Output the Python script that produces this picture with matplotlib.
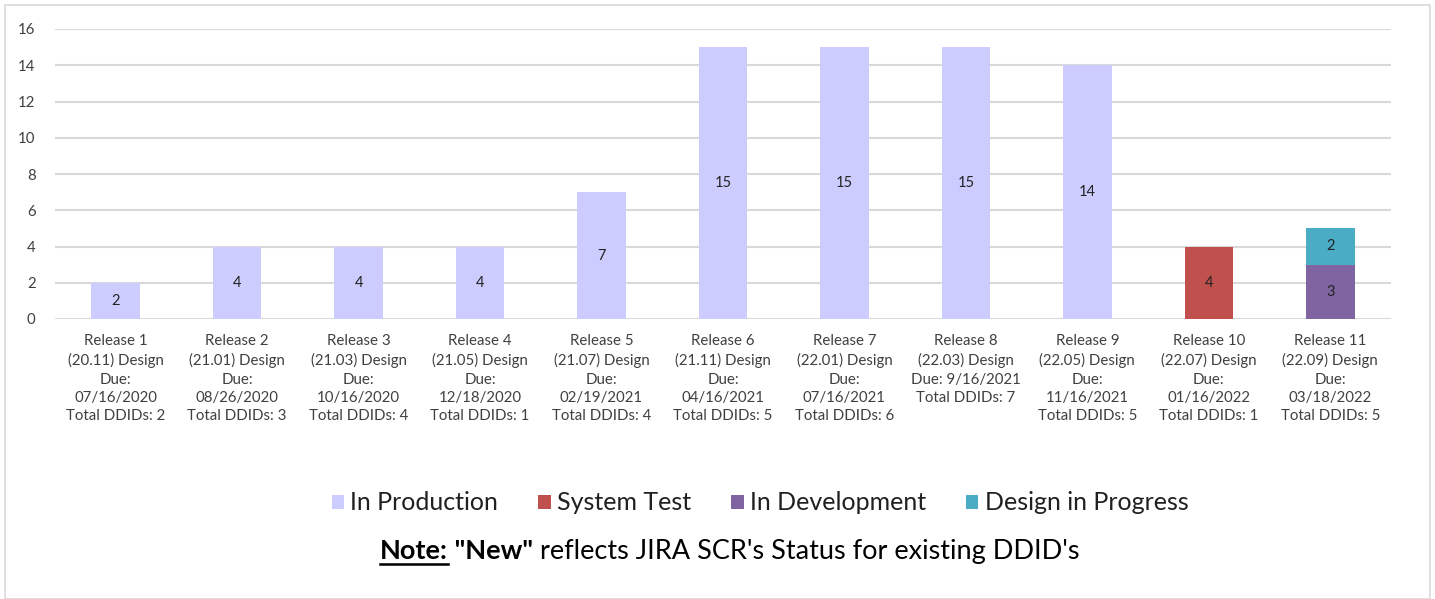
import numpy as np
import matplotlib.pyplot as plt
from matplotlib.patches import Rectangle

plt.rcParams['font.family'] = ['Lato', 'DejaVu Sans']

# Categories
releases = [
    "Release 1\n(20.11) Design\nDue:\n07/16/2020\nTotal DDIDs: 2",
    "Release 2\n(21.01) Design\nDue:\n08/26/2020\nTotal DDIDs: 3",
    "Release 3\n(21.03) Design\nDue:\n10/16/2020\nTotal DDIDs: 4",
    "Release 4\n(21.05) Design\nDue:\n12/18/2020\nTotal DDIDs: 1",
    "Release 5\n(21.07) Design\nDue:\n02/19/2021\nTotal DDIDs: 4",
    "Release 6\n(21.11) Design\nDue:\n04/16/2021\nTotal DDIDs: 5",
    "Release 7\n(22.01) Design\nDue:\n07/16/2021\nTotal DDIDs: 6",
    "Release 8\n(22.03) Design\nDue: 9/16/2021\nTotal DDIDs: 7",
    "Release 9\n(22.05) Design\nDue:\n11/16/2021\nTotal DDIDs: 5",
    "Release 10\n(22.07) Design\nDue:\n01/16/2022\nTotal DDIDs: 1",
    "Release 11\n(22.09) Design\nDue:\n03/18/2022\nTotal DDIDs: 5",
]

# Series values (stacked)
in_production = [2, 4, 4, 4, 7, 15, 15, 15, 14, 0, 0]
system_test = [0, 0, 0, 0, 0, 0, 0, 0, 0, 4, 0]
in_development = [0, 0, 0, 0, 0, 0, 0, 0, 0, 0, 3]
design_in_progress = [0, 0, 0, 0, 0, 0, 0, 0, 0, 0, 2]

series = [in_production, system_test, in_development, design_in_progress]
names = ["In Production", "System Test", "In Development", "Design in Progress"]
colors = ["#CCCCFF", "#C0504D", "#8064A2", "#4BACC6"]

fig = plt.figure(figsize=(14.35, 5.99), dpi=100)
ax = fig.add_axes([55 / 1435, 1 - 319 / 599, (1391 - 55) / 1435, (319 - 29) / 599])

# chart border
fig.patches.append(Rectangle((5 / 1435, 0), 1425 / 1435, 594 / 599, transform=fig.transFigure,
                             fill=False, edgecolor="#D9D9D9", linewidth=1.2))

x = np.arange(len(releases))
bottom = np.zeros(len(releases))
handles = []
for vals, name, c in zip(series, names, colors):
    vals = np.array(vals, dtype=float)
    bars = ax.bar(x, vals, 0.4, bottom=bottom, color=c, label=name, zorder=3)
    handles.append(bars)
    for xi, v, b in zip(x, vals, bottom):
        if v > 0:
            ax.text(xi, b + v / 2, f"{int(v)}", ha="center", va="center",
                    fontsize=10.5, color="#222222", zorder=4)
    bottom += vals

ax.set_xlim(-0.5, len(releases) - 0.5)
ax.set_ylim(0, 16)
ax.set_yticks(range(0, 17, 2))
ax.set_xticks(x)
ax.set_xticklabels(releases, fontsize=10.8, color="#404040", linespacing=1.4)
ax.tick_params(axis="both", length=0, labelsize=10.8, colors="#404040")
ax.tick_params(axis="y", pad=14)
ax.tick_params(axis="x", pad=11)
ax.grid(axis="y", color="#D9D9D9", linewidth=1.5, zorder=0)
ax.set_axisbelow(True)
for s in ax.spines.values():
    s.set_visible(False)

leg = fig.legend(handles=handles, labels=names, loc="center", bbox_to_anchor=(760 / 1435, 1 - 503 / 599),
                 ncol=4, frameon=False, fontsize=18, handlelength=0.5, handleheight=0.5,
                 handletextpad=0.25, columnspacing=1.6)
for t in leg.get_texts():
    t.set_color("#202020")

# Note line with mixed styles
fig.canvas.draw()
y_note = 1 - 551 / 599
t1 = fig.text(380 / 1435, y_note, "Note:", fontsize=19.5, fontweight="bold", va="center", color="black")
t2 = fig.text(0, 0, ' "New"', fontsize=19.5, fontweight="bold", va="center", color="black")
t3 = fig.text(0, 0, " reflects JIRA SCR's Status for existing DDID's", fontsize=19.5, va="center", color="black")
r = fig.canvas.get_renderer()
bb1 = t1.get_window_extent(r)
t2.set_position((bb1.x1 / fig.bbox.width, y_note))
bb2 = t2.get_window_extent(r)
t3.set_position((bb2.x1 / fig.bbox.width, y_note))
uy = (bb1.y0 - 1) / fig.bbox.height
fig.add_artist(plt.Line2D([bb1.x0 / fig.bbox.width, bb1.x1 / fig.bbox.width], [uy, uy],
                          color="black", linewidth=1.8, transform=fig.transFigure))

fig.savefig("out.png", dpi=100)
